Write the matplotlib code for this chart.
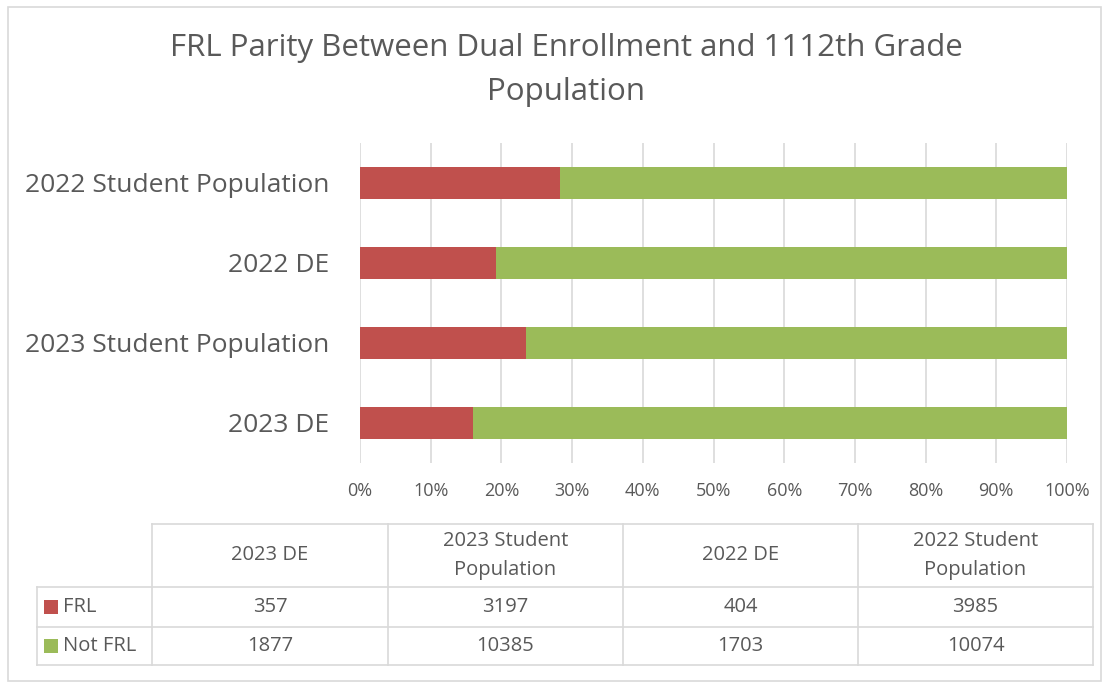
import matplotlib
matplotlib.use("Agg")
import matplotlib.pyplot as plt
from matplotlib.patches import Rectangle
from matplotlib.ticker import PercentFormatter
import numpy as np

plt.rcParams['font.family'] = ['Open Sans', 'DejaVu Sans']

categories = ["2023 DE", "2023 Student Population", "2022 DE", "2022 Student Population"]
header_labels = ["2023 DE", "2023 Student\nPopulation", "2022 DE", "2022 Student\nPopulation"]
frl = [357, 3197, 404, 3985]
not_frl = [1877, 10385, 1703, 10074]
series_names = ["FRL", "Not FRL"]
colors = ["#C0504D", "#9BBB59"]
xticks = [0, 10, 20, 30, 40, 50, 60, 70, 80, 90, 100]

W, H = 1109, 689
fig = plt.figure(figsize=(W / 100, H / 100), dpi=100)
fig.patch.set_facecolor("white")

def fx(px):
    return px / W

def fy(py):
    return 1 - py / H

txt = "#595959"
grid = "#D9D9D9"

# outer chart border
fig.add_artist(Rectangle((fx(8), fy(681)), fx(1101) - fx(8), fy(7) - fy(681),
                         transform=fig.transFigure, fill=False, edgecolor="#D9D9D9", lw=1.2))

fig.text(fx(566), fy(70), "FRL Parity Between Dual Enrollment and 1112th Grade\nPopulation",
         ha="center", va="center", fontsize=22.5, color=txt, linespacing=1.58)

ax = fig.add_axes([fx(360), fy(463), fx(1067) - fx(360), fy(143) - fy(463)])
frl_a = np.array(frl, float)
nf_a = np.array(not_frl, float)
tot = frl_a + nf_a
p1 = frl_a / tot * 100
p2 = nf_a / tot * 100
y = np.arange(len(categories))
ax.barh(y, p1, height=0.4, color=colors[0], zorder=3)
ax.barh(y, p2, left=p1, height=0.4, color=colors[1], zorder=3)
ax.set_xlim(0, 100)
ax.set_ylim(-0.5, len(categories) - 0.5)
ax.set_xticks(xticks)
ax.xaxis.set_major_formatter(PercentFormatter(decimals=0))
ax.set_yticks(y)
ax.set_yticklabels(categories)
ax.tick_params(axis="y", length=0, pad=22, labelsize=19, labelcolor=txt)
ax.tick_params(axis="x", length=0, pad=14, labelsize=13, labelcolor=txt)
ax.grid(axis="x", color=grid, lw=1.2, zorder=0)
for s in ax.spines.values():
    s.set_visible(False)

# data table
col_x = [152, 388, 623, 858, 1093]
row_label_x0 = 37
row_y = [524, 587, 627, 665]
lc = "#D9D9D9"
lw = 1.2

def hline(x0, x1, yy):
    fig.add_artist(plt.Line2D([fx(x0), fx(x1)], [fy(yy), fy(yy)], transform=fig.transFigure, color=lc, lw=lw))

def vline(xx, y0, y1):
    fig.add_artist(plt.Line2D([fx(xx), fx(xx)], [fy(y0), fy(y1)], transform=fig.transFigure, color=lc, lw=lw))

hline(col_x[0], col_x[-1], row_y[0])
for yy in row_y[1:]:
    hline(row_label_x0, col_x[-1], yy)
for xx in col_x:
    vline(xx, row_y[0], row_y[-1])
vline(row_label_x0, row_y[1], row_y[-1])

for i, lab in enumerate(header_labels):
    cx = (col_x[i] + col_x[i + 1]) / 2
    fig.text(fx(cx), fy((row_y[0] + row_y[1]) / 2), lab, ha="center", va="center",
             fontsize=14.5, color=txt, linespacing=1.55)

rows = [frl, not_frl]
for r, vals in enumerate(rows):
    cy = (row_y[r + 1] + row_y[r + 2]) / 2
    fig.add_artist(Rectangle((fx(44), fy(cy + 7)), fx(58) - fx(44), fy(cy - 7) - fy(cy + 7),
                             transform=fig.transFigure, facecolor=colors[r], edgecolor="none"))
    fig.text(fx(63), fy(cy), series_names[r], ha="left", va="center", fontsize=14.5, color=txt)
    for i, v in enumerate(vals):
        cx = (col_x[i] + col_x[i + 1]) / 2
        fig.text(fx(cx), fy(cy), str(v), ha="center", va="center", fontsize=14.5, color=txt)

fig.savefig("out.png", dpi=100, facecolor="white")
